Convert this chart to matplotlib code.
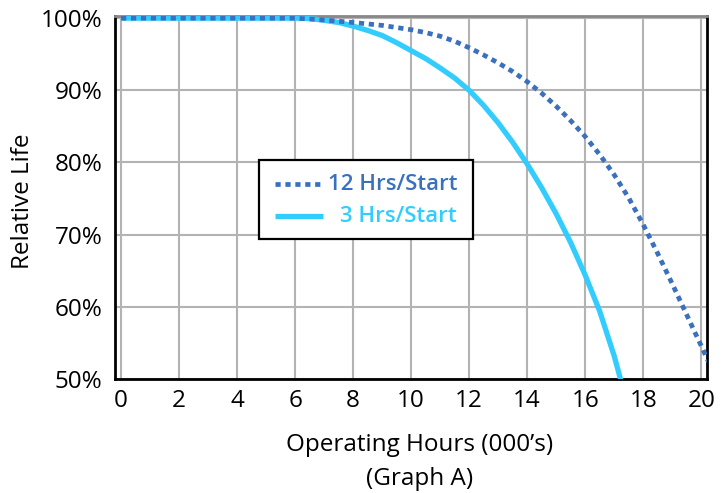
import matplotlib
matplotlib.use("Agg")
import matplotlib.pyplot as plt
from matplotlib.ticker import FuncFormatter
from matplotlib.patches import Rectangle
from matplotlib.lines import Line2D

hours_12 = [0, 2, 4, 6, 7, 8, 9, 10, 10.5, 11, 11.5, 12, 12.5, 13, 13.5, 14, 14.5,
            15, 15.5, 16, 16.5, 17, 17.5, 18, 18.5, 19, 19.5, 20, 20.25]
life_12 = [100, 100, 100, 100, 99.75, 99.4, 99.0, 98.4, 98.0, 97.5, 96.8, 95.9, 94.9,
           93.8, 92.6, 91.2, 89.6, 87.8, 85.8, 83.6, 81.1, 78.3, 75.1, 71.4, 67.4,
           63.2, 58.9, 54.6, 52.4]

hours_3 = [0, 2, 4, 6, 6.5, 7, 7.5, 8, 8.5, 9, 9.5, 10, 10.5, 11, 11.5, 12, 12.5,
           13, 13.5, 14, 14.5, 15, 15.5, 16, 16.5, 17, 17.25]
life_3 = [100, 100, 100, 100, 99.95, 99.7, 99.4, 98.9, 98.3, 97.6, 96.6, 95.5, 94.4,
          93.1, 91.7, 90.0, 87.9, 85.5, 82.8, 79.8, 76.5, 72.9, 68.9, 64.4, 59.4,
          53.2, 49.5]

x_ticks = [0, 2, 4, 6, 8, 10, 12, 14, 16, 18, 20]
y_ticks = [50, 60, 70, 80, 90, 100]

c12 = "#3A70BE"
c3 = "#33CCFF"

plt.rcParams['font.family'] = ['Open Sans', 'DejaVu Sans']

W, H = 724, 493
fig = plt.figure(figsize=(W/100, H/100), dpi=100)
ax = fig.add_axes([115/W, 1-379/H, (707-115)/W, (379-16)/H])

ax.plot(hours_3, life_3, color=c3, lw=3.8, solid_capstyle='butt', zorder=3)
ax.plot(hours_12, life_12, color=c12, lw=3.4, linestyle=(0, (1.1, 1.0)),
        dash_capstyle='butt', zorder=4)

ax.set_xlim(-0.21, 20.2)
ax.set_ylim(50, 100.3)
ax.set_xticks(x_ticks)
ax.set_yticks(y_ticks)
ax.yaxis.set_major_formatter(FuncFormatter(lambda v, p: f"{int(v)}%"))
ax.grid(True, color='#B3B3B3', lw=1.5)
ax.set_axisbelow(True)
ax.tick_params(axis='both', length=0, labelsize=17.5)
ax.tick_params(axis='y', pad=9)
ax.tick_params(axis='x', pad=7)
for s in ['left', 'bottom', 'right']:
    ax.spines[s].set_color('black')
    ax.spines[s].set_linewidth(2)
ax.spines['top'].set_color('#888888')
ax.spines['top'].set_linewidth(2)

fig.text(23/W, 1-201/H, 'Relative Life', fontsize=17.5, rotation=90, ha='center', va='center')
fig.text(420/W, 1-445/H, "Operating Hours (000\u2019s)", fontsize=17.5, ha='center', va='center')
fig.text(420/W, 1-479/H, "(Graph A)", fontsize=17.5, ha='center', va='center')

# legend box
fig.add_artist(Rectangle((259/W, 1-239/H), (473-259)/W, (239-160)/H, transform=fig.transFigure,
                         facecolor='white', edgecolor='black', lw=1.6, zorder=5))
fig.add_artist(Line2D([275/W, 320/W], [1-184/H, 1-184/H], transform=fig.transFigure,
                      color=c12, lw=3.4, linestyle=(0, (1.1, 1.0)), dash_capstyle='butt', zorder=6))
fig.add_artist(Line2D([275/W, 323/W], [1-216/H, 1-216/H], transform=fig.transFigure,
                      color=c3, lw=3.8, solid_capstyle='butt', zorder=6))
fig.text(457/W, 1-184/H, '12 Hrs/Start', color=c12, fontsize=16, fontweight='semibold',
         ha='right', va='center', zorder=7)
fig.text(457/W, 1-216/H, '3 Hrs/Start', color=c3, fontsize=16, fontweight='semibold',
         ha='right', va='center', zorder=7)

fig.savefig('out.png', dpi=100)
